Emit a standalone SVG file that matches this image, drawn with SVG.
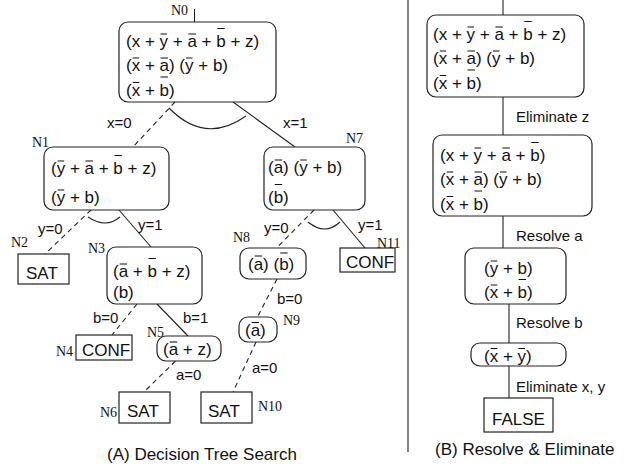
<svg xmlns="http://www.w3.org/2000/svg" width="628" height="468" viewBox="0 0 628 468">
<style>
.box{fill:#fff;stroke:#222;stroke-width:1.2}
.t{font-family:"Liberation Sans",Arial,sans-serif;font-size:17px;fill:#111}
.el{font-family:"Liberation Sans",Arial,sans-serif;font-size:15px;fill:#111}
.lbl{font-family:"Liberation Serif","Times New Roman",serif;font-size:14px;fill:#111}
.ob{stroke:#111;stroke-width:1.1;fill:none}
.e{stroke:#222;stroke-width:1.1;fill:none}
.d{stroke-dasharray:5 4}
</style>
<rect width="628" height="468" fill="#fff"/>
<g id="connectors">
  <line class="e" x1="194.5" y1="9" x2="194.5" y2="22"/>
  <line class="e d" x1="175" y1="102" x2="133" y2="147"/>
  <line class="e" x1="233" y1="102" x2="295" y2="147"/>
  <path class="e" d="M169,108 Q205,145 246,116"/>
  <line class="e d" x1="91" y1="210" x2="45" y2="254"/>
  <line class="e" x1="119" y1="210" x2="151" y2="247"/>
  <path class="e" d="M88,217 Q106,229 120,217"/>
  <line class="e d" x1="137" y1="304" x2="112" y2="335"/>
  <line class="e" x1="157" y1="304" x2="188" y2="336"/>
  <line class="e d" x1="175.5" y1="361" x2="144" y2="392"/>
  <line class="e d" x1="314" y1="210" x2="276.5" y2="248"/>
  <line class="e" x1="333" y1="210" x2="365" y2="248"/>
  <path class="e" d="M308,222 Q325,236 340,222"/>
  <line class="e d" x1="277" y1="279" x2="257.5" y2="317"/>
  <line class="e d" x1="256" y1="342" x2="233" y2="392"/>
  <line class="e" x1="408" y1="0" x2="408" y2="452"/>
  <line class="e" x1="503" y1="0" x2="503" y2="15"/>
  <line class="e" x1="503" y1="97" x2="503" y2="135"/>
  <line class="e" x1="503" y1="216" x2="503" y2="248"/>
  <line class="e" x1="509" y1="304" x2="509" y2="343"/>
  <line class="e" x1="509" y1="366" x2="509" y2="398"/>
  <text class="el" x="107" y="128">x=0</text>
  <text class="el" x="283" y="128">x=1</text>
  <text class="el" x="38" y="234">y=0</text>
  <text class="el" x="138" y="230">y=1</text>
  <text class="el" x="93" y="323">b=0</text>
  <text class="el" x="183" y="323">b=1</text>
  <text class="el" x="176" y="380">a=0</text>
  <text class="el" x="264" y="233">y=0</text>
  <text class="el" x="358" y="230">y=1</text>
  <text class="el" x="277" y="304">b=0</text>
  <text class="el" x="252" y="373">a=0</text>
  <text class="el" x="516" y="121.5">Eliminate z</text>
  <text class="el" x="516" y="241">Resolve a</text>
  <text class="el" x="516" y="328">Resolve b</text>
  <text class="el" x="516" y="391.5">Eliminate x, y</text>
</g>
<g id="n0">
  <rect class="box" x="119" y="22" width="157" height="80" rx="9"/>
  <text class="lbl" x="171" y="15">N0</text>
  <text class="t" x="126" y="47">(x + y + a + b + z)</text>
  <text class="t" x="126" y="71">(x + a) (y + b)</text>
  <text class="t" x="126" y="95.5">(x + b)</text>
  <path class="ob" d="M160.5,34H167M188.4,34H195.9M217.3,28.5H224.7M132.7,58H139.2M160.5,58H168M186,58H192.5M132.7,82.5H139.2M160.5,77H168"/>
</g>
<g id="n1">
  <rect class="box" x="44" y="147" width="125" height="63" rx="9"/>
  <text class="lbl" x="32" y="147">N1</text>
  <text class="t" x="51" y="174">(y + a + b + z)</text>
  <text class="t" x="51" y="203">(y + b)</text>
  <path class="ob" d="M57.7,161H64.2M85.5,161H93M114.4,155.5H121.8M57.7,190H64.2"/>
</g>
<g id="n2">
  <rect class="box" x="18" y="254" width="51" height="30"/>
  <text class="lbl" x="11" y="247">N2</text>
  <text class="t" x="26" y="279">SAT</text>
</g>
<g id="n3">
  <rect class="box" x="107" y="247" width="95" height="57" rx="9"/>
  <text class="lbl" x="88" y="253">N3</text>
  <text class="t" x="113" y="277">(a + b + z)</text>
  <text class="t" x="113" y="298">(b)</text>
  <path class="ob" d="M119.7,264H127.1M148.5,258.5H155.9"/>
</g>
<g id="n4">
  <rect class="box" x="76" y="335" width="56" height="25"/>
  <text class="lbl" x="56" y="355.5">N4</text>
  <text class="t" x="82" y="355.5">CONF</text>
</g>
<g id="n5">
  <rect class="box" x="157" y="336" width="64" height="25" rx="9"/>
  <text class="lbl" x="147" y="336.5">N5</text>
  <text class="t" x="163" y="355">(a + z)</text>
  <path class="ob" d="M169.7,342H177.1"/>
</g>
<g id="n6">
  <rect class="box" x="119" y="392" width="51" height="31"/>
  <text class="lbl" x="100" y="416.5">N6</text>
  <text class="t" x="127" y="417">SAT</text>
</g>
<g id="n7">
  <rect class="box" x="264" y="147" width="101" height="63" rx="9"/>
  <text class="lbl" x="346" y="143">N7</text>
  <text class="t" x="268" y="173">(a) (y + b)</text>
  <text class="t" x="268" y="203">(b)</text>
  <path class="ob" d="M274.7,160H282.1M300.2,160H306.7M274.7,184.5H282.1"/>
</g>
<g id="n8">
  <rect class="box" x="240" y="248" width="66" height="31" rx="9"/>
  <text class="lbl" x="233" y="241.5">N8</text>
  <text class="t" x="248" y="270">(a) (b)</text>
  <path class="ob" d="M254.7,256H262.1M280.2,253H287.6"/>
</g>
<g id="n9">
  <rect class="box" x="239" y="317" width="38" height="25" rx="9"/>
  <text class="lbl" x="283" y="325">N9</text>
  <text class="t" x="245" y="336">(a)</text>
  <path class="ob" d="M251.7,322.5H259.1"/>
</g>
<g id="n10">
  <rect class="box" x="201" y="392" width="51" height="31"/>
  <text class="lbl" x="258" y="411">N10</text>
  <text class="t" x="208" y="417">SAT</text>
</g>
<g id="n11">
  <rect class="box" x="340" y="248" width="55" height="24"/>
  <text class="lbl" x="377" y="248">N11</text>
  <text class="t" x="346" y="268">CONF</text>
</g>
<g id="r1">
  <rect class="box" x="427" y="15" width="157" height="82" rx="9"/>
  <text class="t" x="433" y="40">(x + y + a + b + z)</text>
  <text class="t" x="433" y="64">(x + a) (y + b)</text>
  <text class="t" x="433" y="88.5">(x + b)</text>
  <path class="ob" d="M467.5,27H474M495.4,27H502.9M524.3,21.5H531.7M439.7,51H446.2M467.5,51H475M493,51H499.5M439.7,75.5H446.2M467.5,70H475"/>
</g>
<g id="r2">
  <rect class="box" x="433" y="135" width="159" height="81" rx="9"/>
  <text class="t" x="440" y="161">(x + y + a + b)</text>
  <text class="t" x="440" y="185">(x + a) (y + b)</text>
  <text class="t" x="440" y="209.5">(x + b)</text>
  <path class="ob" d="M474.5,148H481M502.4,148H509.9M531.3,142.5H538.7M446.7,172H453.2M474.5,172H482M500,172H506.5M446.7,196.5H453.2M474.5,191H482"/>
</g>
<g id="r3">
  <rect class="box" x="465" y="248" width="101" height="56" rx="9"/>
  <text class="t" x="484" y="274">(y + b)</text>
  <text class="t" x="484" y="298">(x + b)</text>
  <path class="ob" d="M490.7,261H497.2M490.7,285H497.2M518.5,279.5H526"/>
</g>
<g id="r4">
  <rect class="box" x="471" y="343" width="95" height="23" rx="9"/>
  <text class="t" x="484" y="361.5">(x + y)</text>
  <path class="ob" d="M490.7,348.5H497.2M518.5,348.5H525"/>
</g>
<g id="r5">
  <rect class="box" x="484" y="398" width="69" height="34"/>
  <text class="t" x="492" y="425">FALSE</text>
</g>
<text class="t" x="107" y="460">(A) Decision Tree Search</text>
<text class="t" x="435" y="455">(B) Resolve &amp; Eliminate</text>
</svg>
